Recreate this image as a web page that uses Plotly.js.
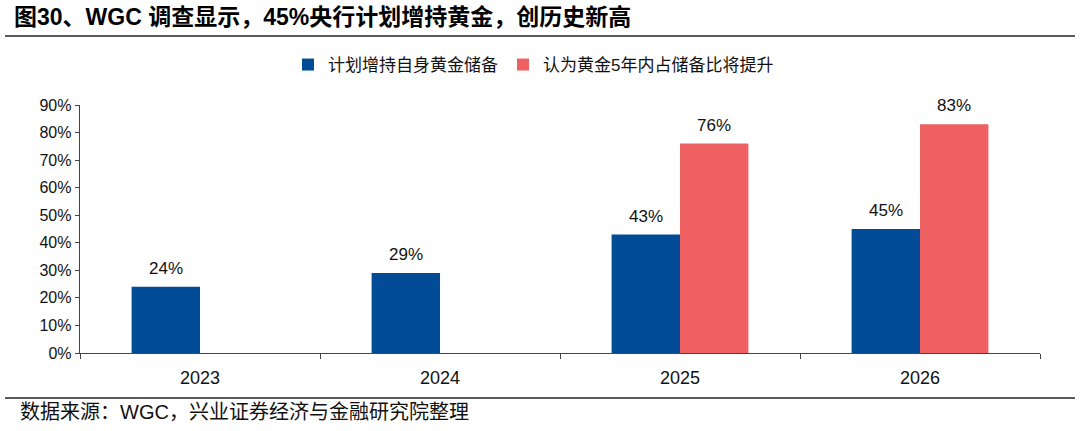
<!DOCTYPE html>
<html>
<head>
<meta charset="utf-8">
<script src="https://cdn.plot.ly/plotly-3.0.1.min.js"></script>
<style>
  html, body { margin: 0; padding: 0; background: #fff; }
  #chart { width: 1080px; height: 431px; }
</style>
</head>
<body>
<div id="chart"></div>
<script>
// Survey years
const years = ['2023', '2024', '2025', '2026'];
// Share of central banks planning to increase their own gold reserves (%)
const planIncrease = [24, 29, 43, 45];
// Share expecting gold's proportion of reserves to rise within 5 years (%)
const expectShareUp = [null, null, 76, 83];
const seriesNames = ['计划增持自身黄金储备', '认为黄金5年内占储备比将提升'];
const yTicks = [0, 10, 20, 30, 40, 50, 60, 70, 80, 90];

const BLUE = '#024C97';
const RED = '#EF6062';
const latin = 'Liberation Sans, Arial, sans-serif';
const cjk = 'Liberation Sans, Noto Sans CJK SC, sans-serif';

// Page geometry helpers (plot area: x 80..1040, y 105..353)
const L = 80, R = 1040, T = 105, B = 353;
const px = x => (x - L) / (R - L);
const py = y => (B - y) / (B - T);

const BARGAP = 0.43;
// Offset of each bar centre from its category centre in a 2-bar group, in category units
const halfBar = (1 - BARGAP) / 4;

const traces = [
  { type: 'bar', name: seriesNames[0], x: years, y: planIncrease,
    marker: { color: BLUE, line: { width: 0 } }, hoverinfo: 'skip' },
  { type: 'bar', name: seriesNames[1], x: years, y: expectShareUp,
    marker: { color: RED, line: { width: 0 } }, hoverinfo: 'skip' }
];

// Value labels above each bar, taken from the same series arrays
const valueLabels = [];
[[planIncrease, -halfBar], [expectShareUp, halfBar]].forEach(([vals, shift]) => {
  vals.forEach((v, i) => {
    if (v == null) return;
    valueLabels.push({
      xref: 'x', yref: 'y', x: i + shift, y: v, yshift: 7,
      xanchor: 'center', yanchor: 'bottom', showarrow: false,
      text: v + '%', font: { family: latin, size: 17, color: '#111' }
    });
  });
});

const layout = {
  width: 1080, height: 431,
  margin: { l: L, r: 1080 - R, t: T, b: 431 - B, pad: 0 },
  paper_bgcolor: '#fff', plot_bgcolor: '#fff',
  barmode: 'group', bargap: BARGAP, bargroupgap: 0,
  showlegend: true,
  legend: {
    orientation: 'h', x: px(288), xanchor: 'left', y: py(65), yanchor: 'middle',
    font: { family: cjk, size: 17, color: '#111' },
    itemwidth: 30, tracegroupgap: 0, bgcolor: 'rgba(0,0,0,0)'
  },
  title: {
    text: '<b>图30、WGC 调查显示，45%央行计划增持黄金，创历史新高</b>',
    xref: 'container', yref: 'container', x: 14 / 1080, xanchor: 'left',
    y: 1 - 17 / 431, yanchor: 'middle',
    font: { family: cjk, size: 23, color: '#000' }
  },
  xaxis: {
    type: 'category', range: [-0.5, years.length - 0.5], autorange: false,
    showgrid: false, zeroline: false,
    showline: true, linecolor: '#444', linewidth: 1.3,
    ticks: 'outside', tickson: 'boundaries', ticklen: 5, tickcolor: '#444',
    ticklabelstandoff: 8,
    tickfont: { family: latin, size: 18, color: '#111' }
  },
  yaxis: {
    range: [0, 90], autorange: false, tickvals: yTicks, ticktext: yTicks.map(v => v + '%'),
    showgrid: false, zeroline: false,
    showline: true, linecolor: '#444', linewidth: 1.3,
    ticks: 'outside', ticklen: 4, tickcolor: '#444',
    tickfont: { family: latin, size: 16, color: '#111' }
  },
  shapes: [
    { type: 'line', xref: 'paper', yref: 'paper', x0: px(5), x1: px(1075), y0: py(36), y1: py(36),
      line: { color: '#222', width: 1.5 } },
    { type: 'line', xref: 'paper', yref: 'paper', x0: px(5), x1: px(1075), y0: py(398), y1: py(398),
      line: { color: '#222', width: 1.5 } }
  ],
  annotations: valueLabels.concat([
    { xref: 'paper', yref: 'paper', x: px(18), y: py(412), xanchor: 'left', yanchor: 'middle',
      showarrow: false, text: '数据来源：WGC，兴业证券经济与金融研究院整理',
      font: { family: cjk, size: 20, color: '#111' } }
  ])
};

Plotly.newPlot('chart', traces, layout, { displayModeBar: false, staticPlot: true });
</script>
</body>
</html>
